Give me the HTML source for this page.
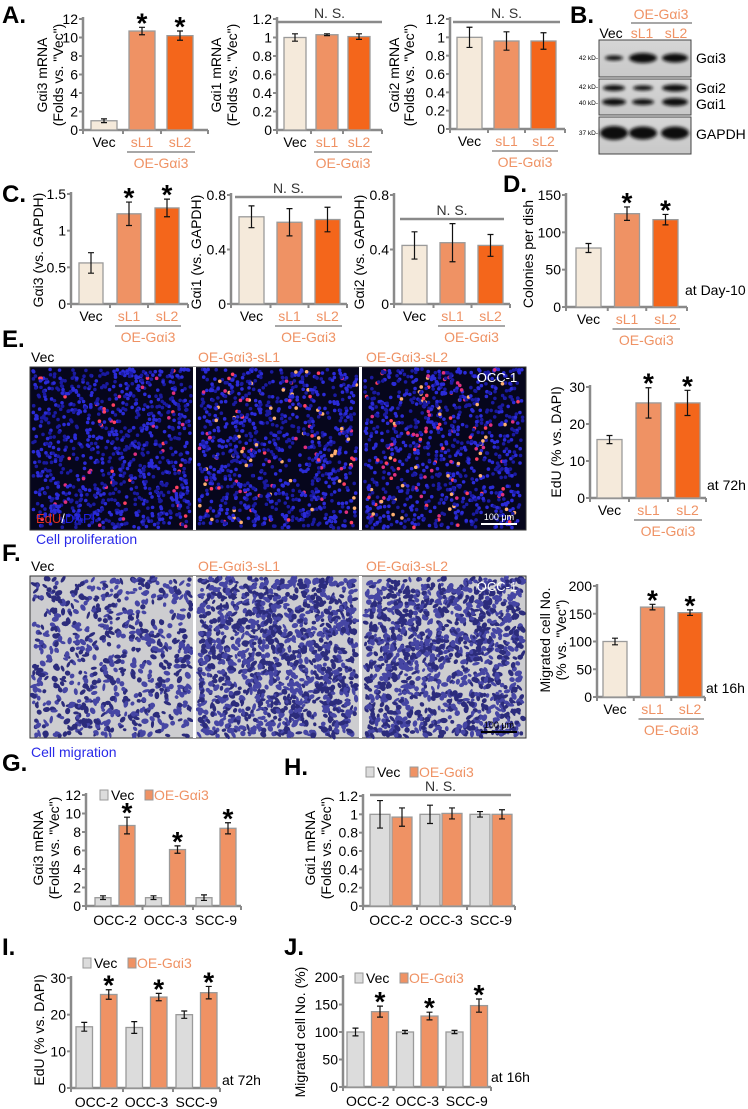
<!DOCTYPE html>
<html><head><meta charset="utf-8">
<style>
html,body{margin:0;padding:0;background:#fff;}
svg{display:block;font-family:"Liberation Sans",Arial,sans-serif;}
</style></head>
<body>
<svg id="fig" width="748" height="1109" viewBox="0 0 748 1109" xmlns="http://www.w3.org/2000/svg">
<defs>
<filter id="blur1" x="-20%" y="-50%" width="140%" height="200%"><feGaussianBlur stdDeviation="1.6"/></filter>
<linearGradient id="blotbg" x1="0" y1="0" x2="0" y2="1"><stop offset="0" stop-color="#d6d6d6"/><stop offset="1" stop-color="#c8c8c8"/></linearGradient>
</defs>
</svg>
<script>
// ---------- data ----------
const cat3 = ['Vec','sL1','sL2'];
const a1Vals = [1.0, 10.7, 10.2];
const a1Errs = [0.2, 0.4, 0.5];
const a1Ticks = [0,2,4,6,8,10,12];
const a2Vals = [1.0, 1.03, 1.01];
const a2Errs = [0.04, 0.01, 0.03];
const a3Vals = [1.0, 0.96, 0.96];
const a3Errs = [0.11, 0.1, 0.09];
const mrnaTicks = [0,0.2,0.4,0.6,0.8,1,1.2];
const c1Vals = [0.56, 1.23, 1.31];
const c1Errs = [0.14, 0.16, 0.12];
const c1Ticks = [0,0.5,1,1.5];
const c2Vals = [0.64, 0.6, 0.62];
const c2Errs = [0.08, 0.1, 0.09];
const c3Vals = [0.43, 0.45, 0.43];
const c3Errs = [0.1, 0.14, 0.08];
const cProtTicks = [0,0.4,0.8];
const dVals = [79, 125, 117];
const dErrs = [6, 9, 7];
const dTicks = [0,50,100,150];
const eVals = [15.8, 25.7, 25.7];
const eErrs = [1.1, 4.1, 3.4];
const eTicks = [0,10,20,30];
const fVals = [100, 162, 152];
const fErrs = [6, 5, 5];
const fTicks = [0,50,100,150,200];
const lines = ['OCC-2','OCC-3','SCC-9'];
const gVec = [0.9, 0.9, 0.9];
const gVecErr = [0.2, 0.2, 0.3];
const gOE = [8.7, 6.1, 8.4];
const gOEErr = [0.9, 0.4, 0.6];
const gTicks = [0,2,4,6,8,10,12];
const hVec = [1.0, 1.0, 1.0];
const hVecErr = [0.15, 0.1, 0.03];
const hOE = [0.97, 1.01, 1.0];
const hOEErr = [0.1, 0.06, 0.05];
const iVec = [16.7, 16.5, 20.0];
const iVecErr = [1.2, 1.6, 1.0];
const iOE = [25.5, 24.8, 26.0];
const iOEErr = [1.3, 1.0, 1.7];
const iTicks = [0,10,20,30];
const jVec = [100, 100, 100];
const jVecErr = [7, 3, 3];
const jOE = [137, 129, 148];
const jOEErr = [10, 7, 12];
const jTicks = [0,50,100,150,200];

// ---------- helpers ----------
const NS='http://www.w3.org/2000/svg';
const svg=document.getElementById('fig');
const AX='#8a8a8a', VEC='#f5eadb', SL1='#ef9264', SL2='#f4661b', GRY='#dcdcdc', SAL='#ef9264';
function mk(tag, attrs, parent){
  const e=document.createElementNS(NS,tag);
  for(const k in attrs) e.setAttribute(k, attrs[k]);
  (parent||svg).appendChild(e);
  return e;
}
function txt(s, x, y, size, fill, anchor, parent, extra){
  const e=mk('text',Object.assign({x:x,y:y,'font-size':size,fill:fill||'#000','text-anchor':anchor||'middle'},extra||{}),parent);
  e.textContent=s;
  return e;
}
function group(name){
  const g=mk('g',{});
  
  
  return g;
}
function fmt(v){return (Math.round(v*10)/10).toString();}
function star(g, x, cy){
  const s=txt('*', x, cy+15, 28, '#000', 'middle', g, {'font-weight':'bold'});
  
  
}
function yAxis(g, c){
  const y=v=>c.y0-(v/c.tmax)*(c.y0-c.yTop);
  const ax=mk('line',{x1:c.x0,y1:c.yTop-2,x2:c.x0,y2:c.y0,stroke:AX,'stroke-width':2.5},g);
  
  
  c.ticks.forEach(t=>{
    mk('line',{x1:c.x0-4,y1:y(t),x2:c.x0,y2:y(t),stroke:AX,'stroke-width':2},g);
    const l=txt(fmt(t), c.x0-5, y(t)+5, 14, '#000', 'end', g);
    
    
  });
  const xa=mk('line',{x1:c.x0-1,y1:c.y0,x2:c.xEnd,y2:c.y0,stroke:AX,'stroke-width':2.5},g);
  
  
  return y;
}
function bar(g, x, w, y, v, e, fill, name){
  const r=mk('rect',{x:x,y:y(v),width:w,height:y(0)-y(v),fill:fill,stroke:'#9a9a9a','stroke-width':1.3},g);
  
  
  const cx=x+w/2;
  const eb=mk('path',{d:`M${cx},${y(v+e)}V${y(v-e)}M${cx-3},${y(v+e)}H${cx+3}M${cx-3},${y(v-e)}H${cx+3}`,stroke:'#111','stroke-width':1.2,fill:'none'},g);
  
  
  return cx;
}
function yTitle(g, lines, xs, cy){
  lines.forEach((s,i)=>{
    const t=txt(s, xs[i], cy, 14, '#000', 'middle', g, {transform:`rotate(-90 ${xs[i]} ${cy})`,'dominant-baseline':'central'});
    
    
  });
}
function chart3(c){
  const g=group(c.name);
  const y=yAxis(g,c);
  const fills=[VEC,SL1,SL2];
  const centers=[];
  c.vals.forEach((v,i)=>{
    const x=c.x0+c.off+i*c.step;
    const cx=bar(g,x,c.w,y,v,c.errs[i],fills[i],'bar-'+cat3[i].toLowerCase());
    centers.push(cx);
    if(c.stars && c.stars[i]) star(g,cx,y(v+c.errs[i])-10);
    const l=txt(cat3[i], cx, c.y0+17, 14, i===0?'#000':SAL, 'middle', g);
    
    
  });
  [c.x0, (centers[0]+centers[1])/2, (centers[1]+centers[2])/2, c.xEnd].forEach(tx=>mk('line',{x1:tx,y1:c.y0,x2:tx,y2:c.y0+4,stroke:AX,'stroke-width':2},g));
  const ul=mk('line',{x1:centers[1]-c.w/2-2,y1:c.y0+22,x2:centers[2]+c.w/2+2,y2:c.y0+22,stroke:'#8a8a8a','stroke-width':1.5},g);
  
  
  const oe=txt('OE-Gαi3', (centers[1]+centers[2])/2, c.y0+38, 14, SAL, 'middle', g);
  
  
  if(c.ns){
    const nl=mk('line',{x1:c.ns[0],y1:c.ns[1],x2:c.ns[2],y2:c.ns[1],stroke:'#8a8a8a','stroke-width':2.5},g);
    
    
    const nt=txt('N. S.', (c.ns[0]+c.ns[2])/2, c.ns[1]-4, 14, '#333', 'middle', g);
    
    
  }
  yTitle(g, c.title, c.titleX, c.titleY);
  if(c.note){
    const n=txt(c.note, c.noteX, c.noteY, 14, '#000', 'start', g);
    
    
  }
}
function chart6(c){
  const g=group(c.name);
  const y=yAxis(g,c);
  lines.forEach((ln,i)=>{
    const xg=c.x0+c.off+i*c.gstep;
    bar(g,xg,c.w,y,c.vec[i],c.vecErr[i],GRY,'bar-vec-'+ln.toLowerCase());
    const cx=bar(g,xg+c.within,c.w,y,c.oe[i],c.oeErr[i],SL1,'bar-oe-'+ln.toLowerCase());
    if(c.stars) star(g,cx,y(c.oe[i]+c.oeErr[i])-10);
    const l=txt(ln, xg+(c.within+c.w)/2, c.y0+19, 14, '#000', 'middle', g);
    
    
    mk('line',{x1:c.x0+i*c.gstep+(i?c.off-3:0),y1:c.y0,x2:c.x0+i*c.gstep+(i?c.off-3:0),y2:c.y0+4,stroke:AX,'stroke-width':2},g);
  });
  mk('line',{x1:c.xEnd,y1:c.y0,x2:c.xEnd,y2:c.y0+4,stroke:AX,'stroke-width':2},g);
  const lg=mk('g',{},g);
  
  
  const s1=mk('rect',{x:c.leg[0],y:c.leg[1]-5,width:8,height:10,fill:GRY,stroke:'#999'},lg);
  
  
  txt('Vec', c.leg[0]+11, c.leg[1]+5, 14, '#000', 'start', lg);
  const s2=mk('rect',{x:c.leg[2],y:c.leg[1]-5,width:8,height:10,fill:SL1,stroke:'#999'},lg);
  
  
  txt('OE-Gαi3', c.leg[2]+9, c.leg[1]+5, 14, SAL, 'start', lg);
  if(c.ns){
    mk('line',{x1:c.ns[0],y1:c.ns[1],x2:c.ns[2],y2:c.ns[1],stroke:'#8a8a8a','stroke-width':2.5},g);
    txt('N. S.', (c.ns[0]+c.ns[2])/2, c.ns[1]-4, 14, '#333', 'middle', g);
  }
  yTitle(g, c.title, c.titleX, c.titleY);
  if(c.note) txt(c.note, c.noteX, c.noteY, 14, '#000', 'start', g);
}

[['A.',2,23],['B.',570,23],['C.',2,202],['D.',503,192],['E.',2,347],['F.',2,561],['G.',2,771],['H.',284,775],['I.',2,955],['J.',284,955]].forEach(p=>{
  const t=txt(p[0],p[1],p[2],24,'#000','start',svg,{'font-weight':'bold'});
  
  
});

chart3({name:'chart-a-gai3-mrna',x0:83,y0:130,yTop:19,tmax:12,ticks:a1Ticks,xEnd:208,off:8,step:38,w:26,vals:a1Vals,errs:a1Errs,stars:[0,1,1],title:['Gαi3 mRNA','(Folds vs. "Vec")'],titleX:[42,58],titleY:75});
chart3({name:'chart-a-gai1-mrna',x0:277,y0:130,yTop:19,tmax:1.2,ticks:mrnaTicks,xEnd:382,off:7,step:32,w:22,vals:a2Vals,errs:a2Errs,ns:[277,22,382],title:['Gαi1 mRNA','(Folds vs. "Vec")'],titleX:[216,232],titleY:75});
chart3({name:'chart-a-gai2-mrna',x0:450,y0:129,yTop:19,tmax:1.2,ticks:mrnaTicks,xEnd:565,off:7,step:37,w:25,vals:a3Vals,errs:a3Errs,ns:[453,22,560],title:['Gαi2 mRNA','(Folds vs. "Vec")'],titleX:[394,409],titleY:75});
chart3({name:'chart-c-gai3-protein',x0:71,y0:304,yTop:194,tmax:1.5,ticks:c1Ticks,xEnd:188,off:8,step:38,w:24,vals:c1Vals,errs:c1Errs,stars:[0,1,1],title:['Gαi3 (vs. GAPDH)'],titleX:[38],titleY:250});
chart3({name:'chart-c-gai1-protein',x0:231,y0:304,yTop:195,tmax:0.8,ticks:cProtTicks,xEnd:347,off:8,step:38,w:25,vals:c2Vals,errs:c2Errs,ns:[235,197,342],title:['Gαi1 (vs. GAPDH)'],titleX:[196],titleY:252});
chart3({name:'chart-c-gai2-protein',x0:394,y0:304,yTop:195,tmax:0.8,ticks:cProtTicks,xEnd:510,off:8,step:38,w:25,vals:c3Vals,errs:c3Errs,ns:[400,219,504],title:['Gαi2 (vs. GAPDH)'],titleX:[359],titleY:252});
chart3({name:'chart-d-colonies',x0:566,y0:307,yTop:195,tmax:150,ticks:dTicks,xEnd:687,off:10,step:38.5,w:25,vals:dVals,errs:dErrs,stars:[0,1,1],title:['Colonies per dish'],titleX:[528],titleY:254,note:'at Day-10',noteX:685,noteY:295});
chart3({name:'chart-e-edu',x0:590,y0:498,yTop:387,tmax:30,ticks:eTicks,xEnd:706,off:7,step:39,w:25,vals:eVals,errs:eErrs,stars:[0,1,1],title:['EdU (% vs. DAPI)'],titleX:[556],titleY:442,note:'at 72h',noteX:707,noteY:490});
chart3({name:'chart-f-migration',x0:597,y0:697,yTop:586,tmax:200,ticks:fTicks,xEnd:705,off:6,step:37.5,w:24,vals:fVals,errs:fErrs,stars:[0,1,1],title:['Migrated cell No.','(% vs. "Vec")'],titleX:[545,561],titleY:640,note:'at 16h',noteX:706,noteY:693});

chart6({name:'chart-g-gai3-mrna',x0:86,y0:906,yTop:795,tmax:12,ticks:gTicks,xEnd:241,off:9,gstep:50.5,within:24,w:16,vec:gVec,vecErr:gVecErr,oe:gOE,oeErr:gOEErr,stars:true,leg:[100,795,145],title:['Gαi3 mRNA','(Folds vs. "Vec")'],titleX:[38,54],titleY:848});
chart6({name:'chart-h-gai1-mrna',x0:363,y0:906,yTop:796,tmax:1.2,ticks:mrnaTicks,xEnd:515,off:7,gstep:50,within:22,w:20,vec:hVec,vecErr:hVecErr,oe:hOE,oeErr:hOEErr,stars:false,leg:[366,772,410],ns:[370,795,511],title:['Gαi1 mRNA','(Folds vs. "Vec")'],titleX:[310,326],titleY:848});
chart6({name:'chart-i-edu',x0:71,y0:1088,yTop:978,tmax:30,ticks:iTicks,xEnd:220,off:5,gstep:50,within:24.5,w:16.5,vec:iVec,vecErr:iVecErr,oe:iOE,oeErr:iOEErr,stars:true,leg:[83,963,128],title:['EdU (% vs. DAPI)'],titleX:[39],titleY:1030,note:'at 72h',noteX:222,noteY:1085});
chart6({name:'chart-j-migration',x0:343,y0:1087,yTop:977,tmax:200,ticks:jTicks,xEnd:491,off:4,gstep:49.5,within:24.5,w:17,vec:jVec,vecErr:jVecErr,oe:jOE,oeErr:jOEErr,stars:true,leg:[355,978,400],title:['Migrated cell No. (%)'],titleX:[300],titleY:1032,note:'at 16h',noteX:491,noteY:1082});

(function(){
  const g=group('western-blot');
  txt('OE-Gαi3',661,19,14,SAL,'middle',g);
  mk('line',{x1:631,y1:23,x2:692,y2:23,stroke:'#8a8a8a','stroke-width':1.5},g);
  txt('Vec',611,38,14,'#000','middle',g);
  txt('sL1',642,38,14,SAL,'middle',g);
  txt('sL2',676,38,14,SAL,'middle',g);
  const boxes=[[40,77],[79,115],[117,154]];
  boxes.forEach(b=>mk('rect',{x:599,y:b[0],width:92,height:b[1]-b[0],fill:'url(#blotbg)',stroke:'#444','stroke-width':1},g));
  const bands=[
    [58,[[614,9,2.5],[643,14,5],[675,13,4.5]]],
    [88,[[614,11,3],[643,10,2.5],[675,13,3.5]]],
    [102,[[614,12,3.5],[643,11,3],[675,13,4]]],
    [133,[[614,14,7],[643,14,6.5],[675,14,6.5]]]
  ];
  bands.forEach(r=>r[1].forEach(b=>mk('ellipse',{cx:b[0],cy:r[0],rx:b[1],ry:b[2],fill:'#111',filter:'url(#blur1)'},g)));
  [['42 kD-',58],['42 kD-',87],['40 kD-',103],['37 kD-',133]].forEach(k=>txt(k[0],598,k[1]+2,6.5,'#000','end',g));
  [['Gαi3',58],['Gαi2',88],['Gαi1',104],['GAPDH',134]].forEach(k=>txt(k[0],696,k[1]+5,14,'#000','start',g));
})();

let seed=12345;
function rnd(){seed=(seed*1103515245+12345)%2147483648;return seed/2147483648;}
function micro(name, y0, y1, fluor){
  const g=group(name);
  mk('rect',{x:30,y:y0,width:496,height:y1-y0,fill:fluor?'#06061c':'#cdcdd0',stroke:'#333','stroke-width':1},g);
  const panels=[[31,193],[197,359],[363,525]];
  panels.forEach((p,pi)=>{
    const cg=mk('g',{},g);
    
    
    const n=fluor?950:[700,1300,1250][pi];
    for(let i=0;i<n;i++){
      const x=p[0]+2+rnd()*(p[1]-p[0]-4), y=y0+2+rnd()*(y1-y0-4);
      if(fluor){
        const r=rnd();
        const red=r<[0.06,0.1,0.13][pi];
        const col=red?(rnd()<0.35&&pi>0?'#ffb070':(rnd()<0.5?'#ff4060':'#e03080')):(rnd()<0.5?'#2b2bd8':'#1a1aa0');
        mk('circle',{cx:x,cy:y,r:1.8,fill:col},cg);
      } else {
        const col=rnd()<0.5?'#4646a4':'#2c2c7c';
        mk('ellipse',{cx:x,cy:y,rx:1.8+rnd()*2.2,ry:1.3+rnd()*1.5,fill:col,transform:`rotate(${Math.floor(rnd()*180)} ${x} ${y})`},cg);
      }
    }
  });
  mk('rect',{x:193,y:y0,width:3,height:y1-y0,fill:'#fff'},g);
  mk('rect',{x:359,y:y0,width:3,height:y1-y0,fill:'#fff'},g);
  txt('OCC-1',497,y0+15,13,'#fff','middle',g);
  mk('line',{x1:481,y1:y1-6,x2:517,y2:y1-6,stroke:fluor?'#fff':'#000','stroke-width':2},g);
  txt('100 μm',499,y1-10,9,fluor?'#fff':'#000','middle',g);
  txt('Vec',31,y0-5,14,'#000','start',g);
  txt('OE-Gαi3-sL1',198,y0-5,14,SAL,'start',g);
  txt('OE-Gαi3-sL2',366,y0-5,14,SAL,'start',g);
  return g;
}
const ge=micro('edu-images',367,530,true);
const lab=mk('text',{x:36,y:523,'font-size':13},ge);


lab.innerHTML='<tspan fill="#e03020">EdU</tspan><tspan fill="#fff">/</tspan><tspan fill="#2020e0">DAPI</tspan>';
const cp=txt('Cell proliferation',36,544,14,'#2a2ae8','start');


micro('migration-images',576,738,false);
const cm=txt('Cell migration',31,757,14,'#2a2ae8','start');


</script>
</body></html>
